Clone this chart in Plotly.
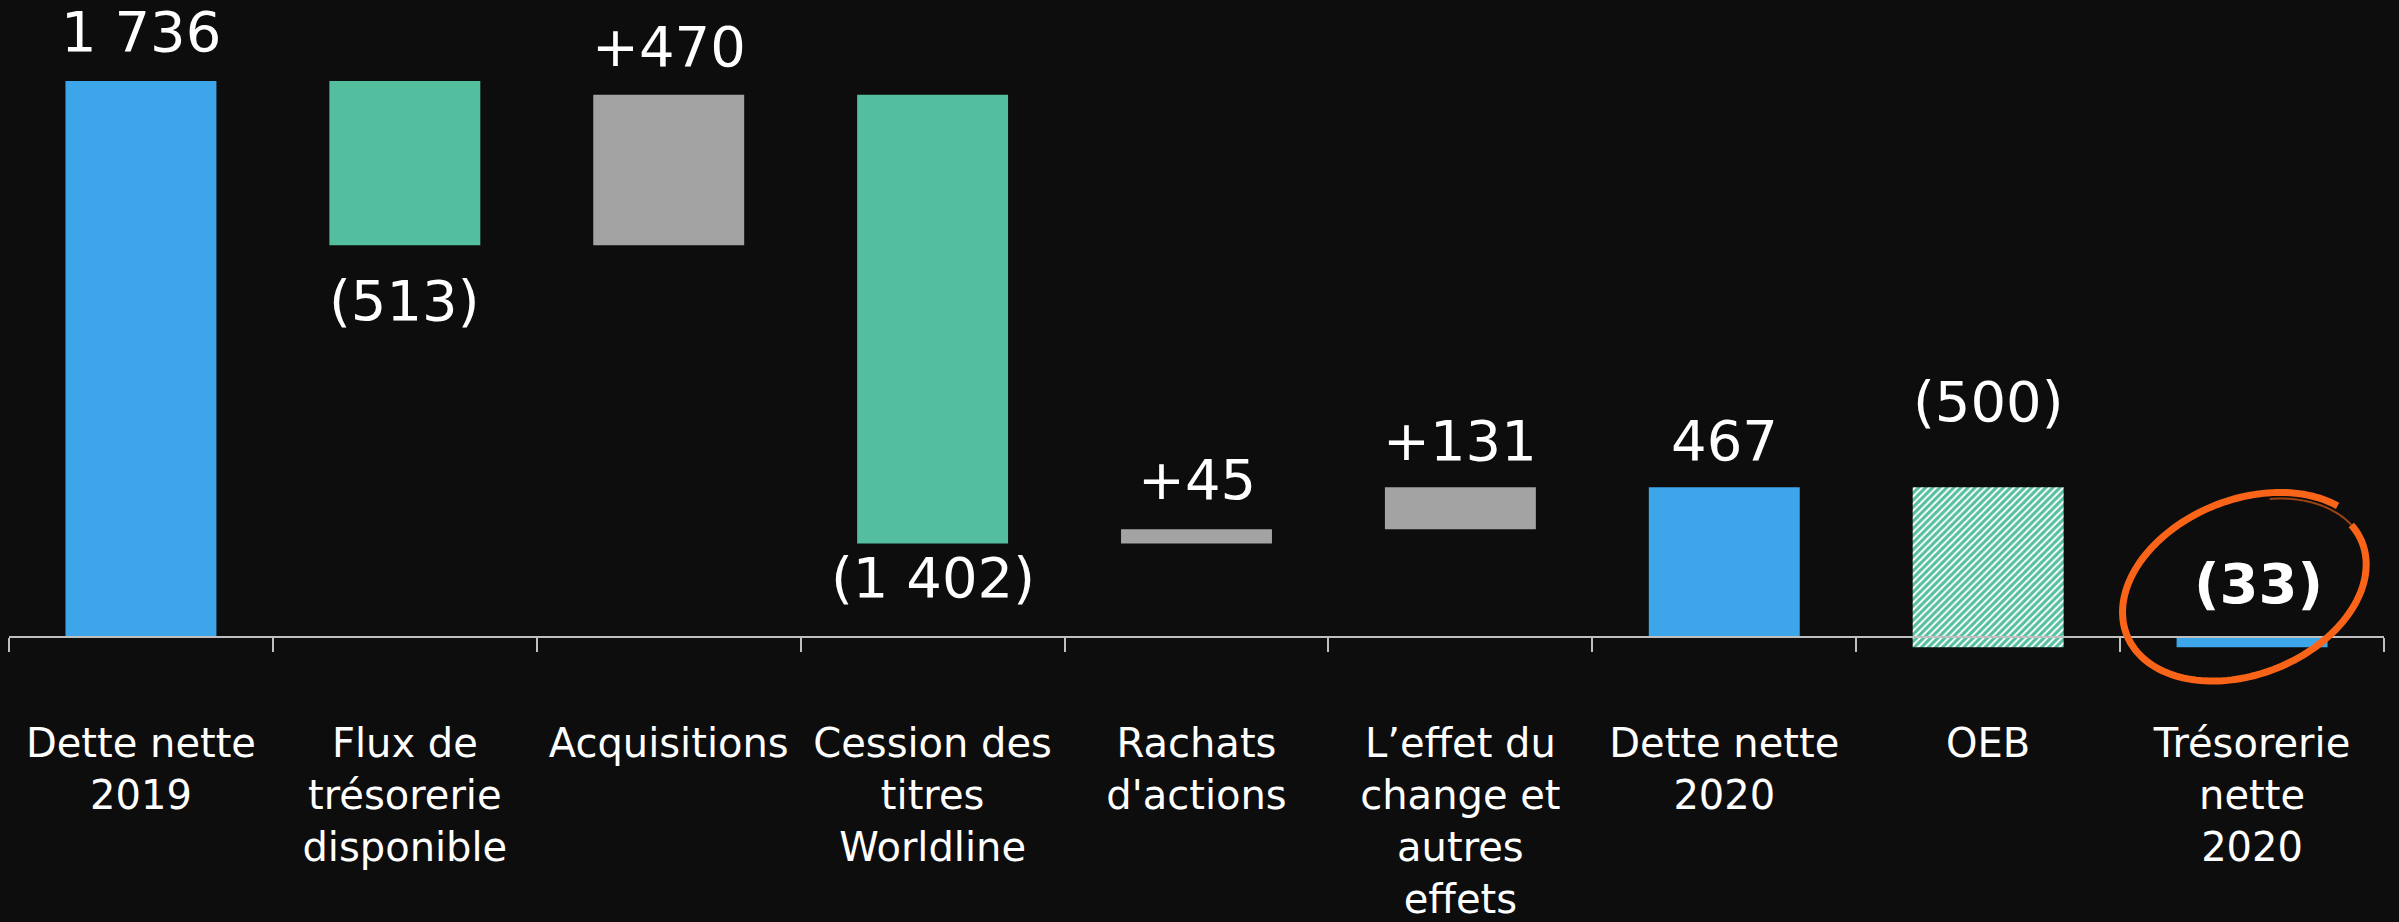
import math
import plotly.graph_objects as go

# ---------------- data ----------------
categories = [
    "Dette nette<br>2019",
    "Flux de<br>trésorerie<br>disponible",
    "Acquisitions",
    "Cession des<br>titres<br>Worldline",
    "Rachats<br>d'actions",
    "L’effet du<br>change et<br>autres<br>effets",
    "Dette nette<br>2020",
    "OEB",
    "Trésorerie<br>nette<br>2020",
]
values = [1736, -513, 470, -1402, 45, 131, 467, -500, -33]
kinds = ["total", "delta", "delta", "delta", "delta", "delta", "total", "delta", "total"]
hatched = ["OEB"]

# ---------------- styles ----------------
BG = "#0D0D0D"
BLUE = "#3DA5EA"
GREEN = "#54BF9E"
GREY = "#A3A3A3"
AXIS = "#BFBFBF"
ORANGE = "#FA6418"
FONT = "Verdana, DejaVu Sans, sans-serif"

W, H = 2399, 922
ML, MR, MT, MB = 9, 15, 0, 250
Y_RANGE = [-110, 1989]

# label placement (side of bar, pixel offset) and emphasis
label_side = ["top", "bottom", "top", "bottom", "top", "top", "top", "top", "top"]
label_shift = [50, 55, 48, 34, 50, 47, 47, 86, 53]
label_xshift = [0, 0, 0, 0, 0, 0, 0, 0, 6]
label_bold = [False] * 8 + [True]

# ---------------- waterfall geometry from data ----------------
bases, heights, colors = [], [], []
running = 0
for c, v, k in zip(categories, values, kinds):
    if k == "total":
        bases.append(0)
        running = v
        col = BLUE
    else:
        bases.append(running)
        running += v
        col = GREEN if v < 0 else GREY
    heights.append(v)
    colors.append(col)

solid_idx = [i for i, c in enumerate(categories) if c not in hatched]
hatch_idx = [i for i, c in enumerate(categories) if c in hatched]


def fmt(v, k):
    n = f"{abs(v):,}".replace(",", "\u00a0")
    if k == "total":
        return n if v >= 0 else f"({n})"
    return f"+{n}" if v > 0 else f"({n})"


fig = go.Figure()
fig.add_trace(
    go.Bar(
        x=[categories[i] for i in solid_idx],
        y=[heights[i] for i in solid_idx],
        base=[bases[i] for i in solid_idx],
        marker=dict(color=[colors[i] for i in solid_idx], line=dict(width=0)),
        hoverinfo="skip",
        showlegend=False,
    )
)
fig.add_trace(
    go.Bar(
        x=[categories[i] for i in hatch_idx],
        y=[heights[i] for i in hatch_idx],
        base=[bases[i] for i in hatch_idx],
        marker=dict(
            color="#FFFFFF",
            line=dict(width=0),
            pattern=dict(shape="/", fgcolor=GREEN, bgcolor="#FFFFFF", fgopacity=1,
                         fillmode="replace", size=5, solidity=0.6),
        ),
        hoverinfo="skip",
        showlegend=False,
    )
)

annotations = []
for i, (v, k) in enumerate(zip(values, kinds)):
    top = max(bases[i], bases[i] + heights[i])
    bot = min(bases[i], bases[i] + heights[i])
    txt = fmt(v, k)
    if label_bold[i]:
        txt = f"<b>{txt}</b>"
    if label_side[i] == "top":
        y, shift = top, label_shift[i]
    else:
        y, shift = bot, -label_shift[i]
    annotations.append(
        dict(x=categories[i], y=y, xref="x", yref="y", text=txt, showarrow=False,
             yshift=shift, xshift=label_xshift[i], yanchor="middle", xanchor="center",
             font=dict(family=FONT, size=56, color="#FFFFFF"))
    )

# hand-drawn style highlight loop around the last label (paper coordinates)
plot_w = W - ML - MR
plot_h = H - MT - MB


def to_paper(px, py):
    return (px - ML) / plot_w, (MT + plot_h - py) / plot_h


cx, cy, a, b, rot = 2246, 588, 131, 89, math.radians(-22)


def loop_path(t_start, t_end, r_start, r_end, n=160):
    pts = []
    for j in range(n + 1):
        f = j / n
        t = math.radians(t_start + (t_end - t_start) * f)
        r = r_start + (r_end - r_start) * f
        ux, uy = a * r * math.cos(t), b * r * math.sin(t)
        px = cx + ux * math.cos(rot) - uy * math.sin(rot)
        py = cy + ux * math.sin(rot) + uy * math.cos(rot)
        xp, yp = to_paper(px, py)
        pts.append(f"{xp:.5f},{yp:.5f}")
    return "M " + " L ".join(pts)


shapes = [
    dict(type="path", xref="paper", yref="paper",
         path=loop_path(-28, -28 - 345, 1.0, 0.95),
         line=dict(color=ORANGE, width=7), layer="above"),
    dict(type="path", xref="paper", yref="paper",
         path=loop_path(-28 - 345, -28 - 395, 0.95, 0.93, 40),
         line=dict(color=ORANGE, width=2), opacity=0.6, layer="above"),
]

fig.update_layout(
    width=W, height=H,
    margin=dict(l=ML, r=MR, t=MT, b=MB, pad=0, autoexpand=False),
    paper_bgcolor=BG, plot_bgcolor=BG,
    barmode="overlay",
    bargap=0.428,
    showlegend=False,
    annotations=annotations,
    shapes=shapes,
    xaxis=dict(
        type="category",
        categoryorder="array", categoryarray=categories,
        range=[-0.5, len(categories) - 0.5],
        anchor="free",
        position=(0 - Y_RANGE[0]) / (Y_RANGE[1] - Y_RANGE[0]),
        showline=True, linecolor=AXIS, linewidth=2,
        ticks="outside", tickson="boundaries", ticklen=14, tickwidth=2, tickcolor=AXIS,
        showgrid=False, zeroline=False,
        tickfont=dict(family=FONT, size=40, color="#FFFFFF"),
        ticklabelstandoff=71,
        fixedrange=True,
    ),
    yaxis=dict(range=Y_RANGE, visible=False, showgrid=False, zeroline=False, fixedrange=True),
)

fig.write_html("out.html", config={"displayModeBar": False},
               post_script="document.body.style.margin='0';")
